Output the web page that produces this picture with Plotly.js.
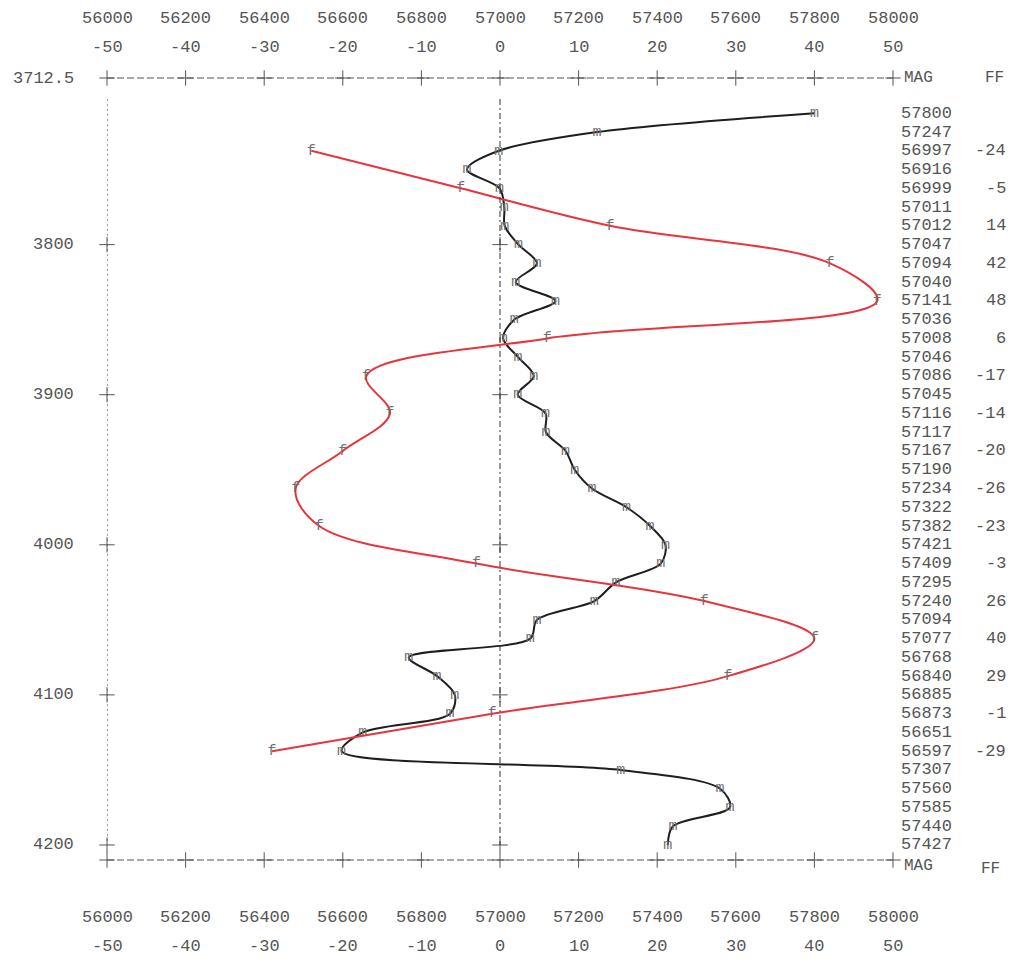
<!DOCTYPE html>
<html>
<head>
<meta charset="utf-8">
<script src="https://cdn.plot.ly/plotly-3.0.1.min.js"></script>
<style>
html,body{margin:0;padding:0;background:#fff;}
#chart{width:1015px;height:963px;}
</style>
</head>
<body>
<div id="chart"></div>
<script>
// ---- data ----
const magTicks = [56000, 56200, 56400, 56600, 56800, 57000, 57200, 57400, 57600, 57800, 58000];
const ffTicks = [-50, -40, -30, -20, -10, 0, 10, 20, 30, 40, 50];
const depthTicks = [3800, 3900, 4000, 4100, 4200];
const topDepthLabel = "3712.5";

const magDepth = [3712.5, 3725, 3737.5, 3750, 3762.5, 3775, 3787.5, 3800, 3812.5, 3825,
  3837.5, 3850, 3862.5, 3875, 3887.5, 3900, 3912.5, 3925, 3937.5, 3950,
  3962.5, 3975, 3987.5, 4000, 4012.5, 4025, 4037.5, 4050, 4062.5, 4075,
  4087.5, 4100, 4112.5, 4125, 4137.5, 4150, 4162.5, 4175, 4187.5, 4200];
const magValues = [57800, 57247, 56997, 56916, 56999, 57011, 57012, 57047, 57094, 57040,
  57141, 57036, 57008, 57046, 57086, 57045, 57116, 57117, 57167, 57190,
  57234, 57322, 57382, 57421, 57409, 57295, 57240, 57094, 57077, 56768,
  56840, 56885, 56873, 56651, 56597, 57307, 57560, 57585, 57440, 57427];

const ffDepth = [3737.5, 3762.5, 3787.5, 3812.5, 3837.5, 3862.5, 3887.5, 3912.5, 3937.5,
  3962.5, 3987.5, 4012.5, 4037.5, 4062.5, 4087.5, 4112.5, 4137.5];
const ffValues = [-24, -5, 14, 42, 48, 6, -17, -14, -20, -26, -23, -3, 26, 40, 29, -1, -29];

// ---- styling ----
const FONT = "Liberation Mono, DejaVu Sans Mono, monospace";
const GREY = "#555";
const yRange = [4210, 3689];         // bottom, top (reversed depth axis)
const magRange = [56000, 58000];
const ffRange = [-50, 50];
const lineStart = 3703;

const traces = [];

// tick crosses on top & bottom frame lines
traces.push({
  x: magTicks.concat(magTicks),
  y: magTicks.map(() => yRange[1]).concat(magTicks.map(() => yRange[0])),
  mode: "markers", type: "scatter", xaxis: "x", yaxis: "y",
  marker: {symbol: "cross-thin", size: 11, line: {width: 1, color: GREY}, color: GREY},
  cliponaxis: false, hoverinfo: "skip", showlegend: false
});
// tick crosses on left line and centre line
traces.push({
  x: depthTicks.map(() => magRange[0]).concat(depthTicks.map(() => 57000)),
  y: depthTicks.concat(depthTicks),
  mode: "markers", type: "scatter", xaxis: "x", yaxis: "y",
  marker: {symbol: "cross-thin", size: 11, line: {width: 1, color: GREY}, color: GREY},
  cliponaxis: false, hoverinfo: "skip", showlegend: false
});

// MAG curve
traces.push({
  x: magValues, y: magDepth, xaxis: "x", yaxis: "y",
  type: "scatter", mode: "lines+text",
  text: magValues.map(() => "m"), textposition: "middle center",
  textfont: {family: FONT, size: 15, color: "#707070"},
  line: {color: "#1e1e1e", width: 2, shape: "spline", smoothing: 0.9},
  cliponaxis: false, showlegend: false
});
// FF curve
traces.push({
  x: ffValues, y: ffDepth, xaxis: "x2", yaxis: "y",
  type: "scatter", mode: "lines+text",
  text: ffValues.map(() => "f"), textposition: "middle center",
  textfont: {family: FONT, size: 15, color: "#707070"},
  line: {color: "#e8343c", width: 2, shape: "spline", smoothing: 1},
  cliponaxis: false, showlegend: false
});

const shapes = [
  // top & bottom frame lines (dashed)
  {type: "line", xref: "paper", yref: "paper", x0: 0, x1: 1, y0: 1, y1: 1,
   line: {color: GREY, width: 1, dash: "7px,3px"}},
  {type: "line", xref: "paper", yref: "paper", x0: 0, x1: 1, y0: 0, y1: 0,
   line: {color: GREY, width: 1, dash: "7px,3px"}},
  // left dotted line
  {type: "line", xref: "x", yref: "y", x0: magRange[0], x1: magRange[0], y0: lineStart, y1: depthTicks[depthTicks.length - 1],
   line: {color: "#444", width: 1, dash: "2px,3px"}},
  // centre dash-dot line
  {type: "line", xref: "x", yref: "y", x0: 57000, x1: 57000, y0: lineStart, y1: depthTicks[depthTicks.length - 1],
   line: {color: "#333", width: 1, dash: "6px,3px,2px,3px"}}
];

const annotations = [];
const tf = (s) => ({family: FONT, size: s, color: GREY});

// top and bottom tick labels
magTicks.forEach((v) => {
  annotations.push({x: v, xref: "x", y: 1.0767, yref: "paper", text: String(v), showarrow: false, font: tf(17), xanchor: "center", yanchor: "middle"});
  annotations.push({x: v, xref: "x", y: -0.0729, yref: "paper", text: String(v), showarrow: false, font: tf(17), xanchor: "center", yanchor: "middle"});
});
ffTicks.forEach((v) => {
  annotations.push({x: v, xref: "x2", y: 1.0396, yref: "paper", text: String(v), showarrow: false, font: tf(17), xanchor: "center", yanchor: "middle"});
  annotations.push({x: v, xref: "x2", y: -0.110, yref: "paper", text: String(v), showarrow: false, font: tf(17), xanchor: "center", yanchor: "middle"});
});
// depth labels
depthTicks.forEach((d) => {
  annotations.push({x: -0.039, xref: "paper", y: d, yref: "y", text: String(d), showarrow: false, font: tf(17), xanchor: "right", yanchor: "middle"});
});
annotations.push({x: -0.039, xref: "paper", y: 1, yref: "paper", text: topDepthLabel, showarrow: false, font: tf(17), xanchor: "right", yanchor: "middle"});

// MAG / FF headers (top on the frame line, bottom just under it)
annotations.push({x: 1.012, xref: "paper", y: 1, yref: "paper", text: "MAG", showarrow: false, font: tf(16), xanchor: "left", yanchor: "middle"});
annotations.push({x: 1.114, xref: "paper", y: 1, yref: "paper", text: "FF", showarrow: false, font: tf(16), xanchor: "left", yanchor: "middle"});
annotations.push({x: 1.012, xref: "paper", y: -0.008, yref: "paper", text: "MAG", showarrow: false, font: tf(16), xanchor: "left", yanchor: "middle"});
annotations.push({x: 1.110, xref: "paper", y: -0.011, yref: "paper", text: "FF", showarrow: false, font: tf(16), xanchor: "left", yanchor: "middle"});

// right column: MAG values
magValues.forEach((v, i) => {
  annotations.push({x: 1.008, xref: "paper", y: magDepth[i], yref: "y", text: String(v), showarrow: false, font: tf(17), xanchor: "left", yanchor: "middle"});
});
// right column: FF values
ffValues.forEach((v, i) => {
  annotations.push({x: 1.146, xref: "paper", y: ffDepth[i], yref: "y", text: String(v), showarrow: false, font: tf(17), xanchor: "right", yanchor: "middle"});
});

const hidden = {showgrid: false, zeroline: false, showticklabels: false, showline: false, ticks: ""};

const layout = {
  width: 1015, height: 963,
  margin: {l: 107, r: 122, t: 78, b: 103, pad: 0},
  paper_bgcolor: "#fff", plot_bgcolor: "#fff",
  showlegend: false,
  xaxis: Object.assign({range: magRange}, hidden),
  xaxis2: Object.assign({range: ffRange, overlaying: "x", side: "top"}, hidden),
  yaxis: Object.assign({range: yRange}, hidden),
  shapes: shapes,
  annotations: annotations
};

Plotly.newPlot("chart", traces, layout, {displayModeBar: false, staticPlot: true});
</script>
</body>
</html>
